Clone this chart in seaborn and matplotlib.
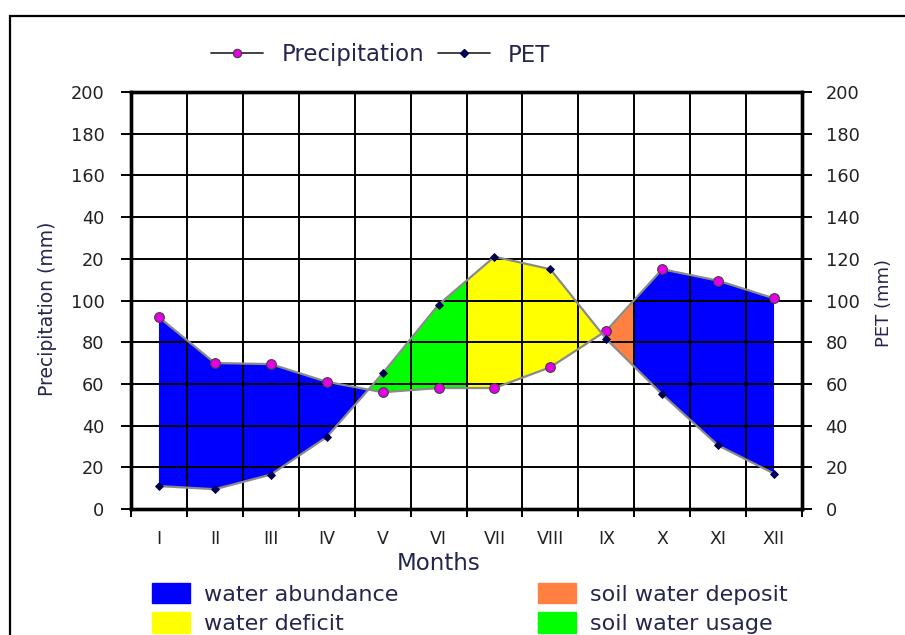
import numpy as np
import pandas as pd
import matplotlib
matplotlib.use("Agg")
import matplotlib.pyplot as plt
import seaborn as sns
from matplotlib.lines import Line2D
from matplotlib.patches import Patch, Rectangle

# ---- data ----
months = ["I", "II", "III", "IV", "V", "VI", "VII", "VIII", "IX", "X", "XI", "XII"]
precip = [92, 70, 69.5, 61, 56, 58, 58, 68, 85.5, 115, 109.5, 101]
pet = [11, 9.5, 16.5, 34.5, 65, 98, 121, 115, 81.5, 55, 30.5, 17]
y_ticks = [0, 20, 40, 60, 80, 100, 120, 140, 160, 180, 200]
left_tick_labels = ["0", "20", "40", "60", "80", "100", "20", "40", "160", "180", "200"]
right_tick_labels = ["0", "20", "40", "60", "80", "100", "120", "140", "160", "180", "200"]
region_names = ["water abundance", "water deficit", "soil water deposit", "soil water usage"]
region_colors = ["#0000ff", "#ffff00", "#ff8040", "#00ff00"]

sns.set_theme(style="white")
plt.rcParams["font.family"] = ["DejaVu Sans"]

TXT = "#25254f"
TICK = "#222222"

fig = plt.figure(figsize=(9.05, 6.35), dpi=100)
ax = fig.add_axes([131 / 905, 126 / 635, 671 / 905, 417 / 635])

df = pd.DataFrame({"m": np.arange(len(months)), "Precipitation": precip, "PET": pet})
x = df["m"].to_numpy(float)

# ---- filled regions (between the two drawn polylines) ----
xs = np.arange(0, 1101) / 100.0
p_i = np.interp(xs, x, df["Precipitation"])
e_i = np.interp(xs, x, df["PET"])
surplus = p_i >= e_i
usage_end = 5.5     # boundary VI / VII
deposit_end = 8.5   # boundary IX / X
masks = [
    surplus & ((xs <= 5) | (xs >= deposit_end)),       # water abundance
    (~surplus) & (xs >= usage_end),                     # water deficit
    surplus & (xs >= 7) & (xs <= deposit_end),          # soil water deposit
    (~surplus) & (xs <= usage_end),                     # soil water usage
]
for m, c in zip(masks, region_colors):
    ax.fill_between(xs, p_i, e_i, where=m, interpolate=True, color=c, lw=0, zorder=1)

sns.lineplot(data=df, x="m", y="Precipitation", ax=ax, color="#8a8a8a", lw=1.6,
             marker="o", markersize=7, markerfacecolor="#e600e6",
             markeredgecolor="#404040", markeredgewidth=0.8, zorder=4)
sns.lineplot(data=df, x="m", y="PET", ax=ax, color="#8a8a8a", lw=1.6,
             marker="D", markersize=4.5, markerfacecolor="#000050",
             markeredgecolor="#000050", markeredgewidth=0.6, zorder=4)

ax.set_xlim(-0.5, 11.5)
ax.set_ylim(0, 200)
ax.set_xticks(x)
ax.set_xticklabels(months)
ax.set_xticks(np.arange(-0.5, 12, 1), minor=True)
ax.set_yticks(y_ticks)
ax.set_yticklabels(left_tick_labels)
ax.tick_params(axis="x", which="major", length=0, pad=15, labelsize=12.5, labelcolor=TICK)
ax.tick_params(axis="x", which="minor", bottom=True, length=6, width=1.4,
               direction="out", color="black")
ax.tick_params(axis="y", left=True, length=7, width=1.4, direction="out",
               color="black", pad=12, labelsize=12.8, labelcolor=TICK)
ax.grid(True, which="minor", axis="x", color="black", lw=1.4)
ax.grid(True, which="major", axis="y", color="black", lw=1.4)
ax.grid(False, which="major", axis="x")
ax.set_axisbelow("line")

ax.set_xlabel("Months", fontsize=16.5, color=TXT)
ax.set_ylabel("Precipitation (mm)", fontsize=13.5, color=TXT)
ax.xaxis.set_label_coords(0.459, -0.1295)
ax.xaxis.label.set_va("center")
ax.yaxis.set_label_coords(-0.125, 0.48)
ax.yaxis.label.set_va("center")

ax2 = ax.twinx()
ax2.set_ylim(0, 200)
ax2.set_yticks(y_ticks)
ax2.set_yticklabels(right_tick_labels)
ax2.tick_params(axis="y", right=True, length=7, width=1.4, direction="out",
                color="black", pad=10, labelsize=12.8, labelcolor=TICK)
ax2.set_ylabel("PET (mm)", fontsize=13, color=TXT)
ax2.yaxis.set_label_coords(1.122, 0.493)
ax2.yaxis.label.set_va("center")

for a in (ax, ax2):
    for s in a.spines.values():
        s.set_linewidth(2.4)
        s.set_color("black")

# ---- legends ----
h1 = Line2D([], [], color="#333333", lw=1.3, marker="o", ms=6,
            mfc="#e600e6", mec="#404040", mew=0.8)
h2 = Line2D([], [], color="#333333", lw=1.3, marker="D", ms=4,
            mfc="#000050", mec="#000050")
fig.legend([h1, h2], ["Precipitation", "PET"], loc="center",
           bbox_to_anchor=(381 / 905, 1 - 55 / 635), ncol=2, frameon=False,
           fontsize=16.5, handlelength=2.27, handletextpad=0.79, columnspacing=0.6,
           labelcolor=TXT, borderpad=0, borderaxespad=0)

patches = [Patch(facecolor=c, edgecolor=c) for c in region_colors]
fig.legend(patches, region_names, loc="upper left",
           bbox_to_anchor=(152 / 905, 1 - 583 / 635), ncol=2, frameon=False,
           fontsize=16, handlelength=1.71, handleheight=1.04, handletextpad=0.63,
           columnspacing=6.27, labelspacing=0.33, borderpad=0, borderaxespad=0,
           labelcolor=TXT)

# outer frame of the screenshot
fig.add_artist(Rectangle((10 / 905, -0.2), 1.5, 1.2 - 16 / 635, transform=fig.transFigure,
                         fill=False, edgecolor="black", lw=1.6, clip_on=False))

fig.savefig("out.png", dpi=100)
